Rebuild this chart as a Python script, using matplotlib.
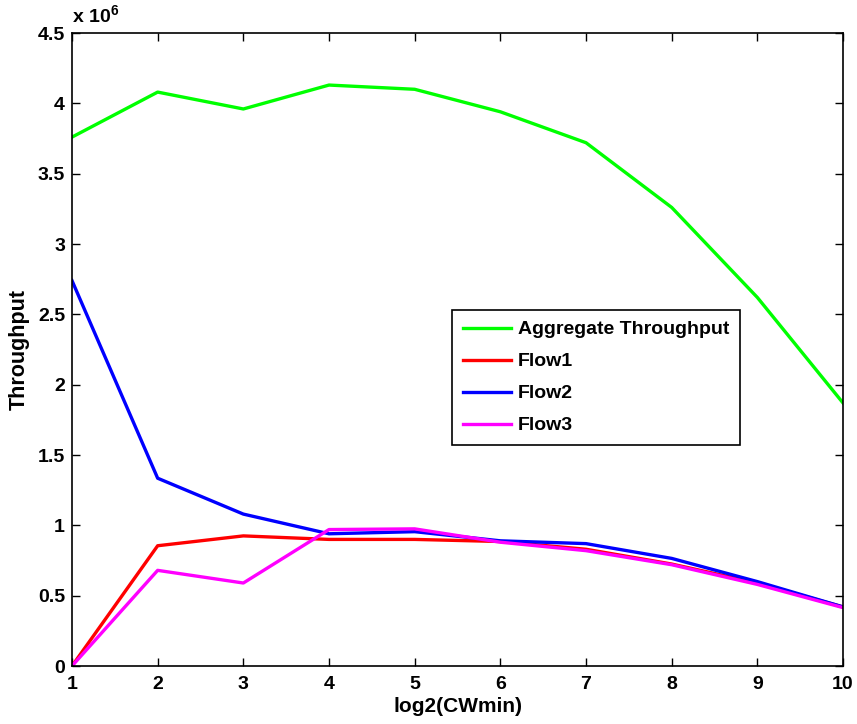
import matplotlib
matplotlib.use("Agg")
import matplotlib.pyplot as plt
from matplotlib.ticker import FuncFormatter

plt.rcParams['font.family'] = ['Liberation Sans', 'DejaVu Sans']
plt.rcParams['font.weight'] = 'bold'
plt.rcParams['mathtext.fontset'] = 'custom'
plt.rcParams['mathtext.rm'] = 'Liberation Sans:bold'

# データ
cwmin_log2 = [1, 2, 3, 4, 5, 6, 7, 8, 9, 10]
aggregate = [3.76e6, 4.08e6, 3.96e6, 4.13e6, 4.10e6, 3.94e6, 3.72e6, 3.26e6, 2.62e6, 1.87e6]
flow1 = [0.0, 0.855e6, 0.925e6, 0.90e6, 0.90e6, 0.885e6, 0.83e6, 0.725e6, 0.59e6, 0.42e6]
flow2 = [2.74e6, 1.335e6, 1.08e6, 0.94e6, 0.955e6, 0.89e6, 0.87e6, 0.765e6, 0.60e6, 0.42e6]
flow3 = [0.0, 0.68e6, 0.59e6, 0.97e6, 0.975e6, 0.88e6, 0.82e6, 0.72e6, 0.58e6, 0.415e6]

fig = plt.figure(figsize=(8.57, 7.24), dpi=100)
ax = fig.add_axes([0.084, 0.0801, 0.8997, 0.8743])

lw = 2.4
ax.plot(cwmin_log2, aggregate, color='#00ff00', lw=lw, label='Aggregate Throughput')
ax.plot(cwmin_log2, flow1, color='#ff0000', lw=lw, label='Flow1')
ax.plot(cwmin_log2, flow2, color='#0000ff', lw=lw, label='Flow2')
ax.plot(cwmin_log2, flow3, color='#ff00ff', lw=lw, label='Flow3')

ax.set_xlim(1, 10)
ax.set_ylim(0, 4.5e6)
ax.set_xticks(range(1, 11))
ax.set_yticks([i * 0.5e6 for i in range(10)])
ax.yaxis.set_major_formatter(FuncFormatter(lambda v, p: ('%g' % (v / 1e6))))
ax.tick_params(direction='in', top=True, right=True, labelsize=14, width=1, length=6)
ax.tick_params(axis='x', pad=7)
ax.tick_params(axis='y', pad=5)
for s in ax.spines.values():
    s.set_linewidth(1.2)

ax.set_xlabel('log2(CWmin)', fontsize=15, fontweight='bold', labelpad=3)
ax.set_ylabel('Throughput', fontsize=15.5, fontweight='bold', labelpad=6)
ax.text(0.0, 1.01, r'x 10$^{6}$', transform=ax.transAxes, fontsize=14,
        fontweight='bold', ha='left', va='bottom')

leg = ax.legend(loc='lower left', bbox_to_anchor=(0.493, 0.349), fontsize=14,
                frameon=True, fancybox=False, edgecolor='black', framealpha=1,
                handlelength=2.5, handletextpad=0.35, borderpad=0.55,
                labelspacing=0.74, borderaxespad=0)
leg.get_frame().set_linewidth(1.2)
for t in leg.get_texts():
    t.set_fontweight('bold')

fig.savefig('out.png', dpi=100)
